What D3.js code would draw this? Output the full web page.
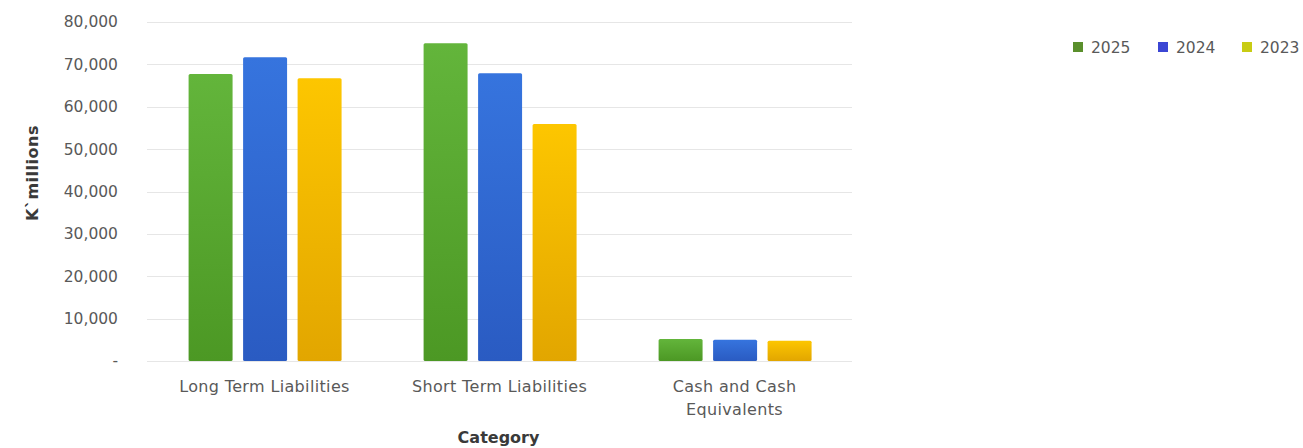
<!DOCTYPE html>
<html>
<head>
<meta charset="utf-8">
<script src="https://cdn.jsdelivr.net/npm/d3@7"></script>
<style>
  body { margin: 0; background: #fff; font-family: "DejaVu Sans", sans-serif; }
  .grid line { stroke: #e6e6e6; stroke-width: 1; }
  .tick text { fill: #595959; }
</style>
</head>
<body>
<div id="vis-container"></div>
<script>
// Chart data
var categories = ["Long Term Liabilities", "Short Term Liabilities", "Cash and Cash Equivalents"];
var years = ["2025", "2024", "2023"];
var values2025 = [67700, 75000, 5200];
var values2024 = [71700, 67900, 5000];
var values2023 = [66700, 55900, 4800];
var yTicks = [0, 10000, 20000, 30000, 40000, 50000, 60000, 70000, 80000];

var width = 1303, height = 448;
var margins = { top: 22, right: 451, bottom: 87, left: 147 };
var visWidth = width - margins.left - margins.right;
var visHeight = height - margins.top - margins.bottom;

var barColors = {
    "2025": ["#63b53b", "#4c9824"],
    "2024": ["#3674de", "#2a5bc2"],
    "2023": ["#fdc600", "#e2a600"]
};
var legendColors = { "2025": "#5a8f2c", "2024": "#3b46d4", "2023": "#c8cc14" };

var seriesValues = { "2025": values2025, "2024": values2024, "2023": values2023 };

var svg = d3.select("#vis-container").append("svg")
    .attr("width", width).attr("height", height);

// gradients for bars
var defs = svg.append("defs");
years.forEach(function (yr) {
    var g = defs.append("linearGradient").attr("id", "grad" + yr)
        .attr("x1", 0).attr("y1", 0).attr("x2", 0).attr("y2", 1);
    g.append("stop").attr("offset", "0%").attr("stop-color", barColors[yr][0]);
    g.append("stop").attr("offset", "100%").attr("stop-color", barColors[yr][1]);
});

var viewport = svg.append("g").attr("transform", "translate(" + margins.left + "," + margins.top + ")");

var x0 = d3.scaleBand().domain(categories).range([0, visWidth]);
var bw = x0.bandwidth();
var x1 = d3.scaleBand().domain(years).range([bw * 0.177, bw * 0.828]).paddingInner(0.193);
var y = d3.scaleLinear().domain([0, 80000]).range([visHeight, 0]);

// gridlines
viewport.append("g").attr("class", "grid")
    .selectAll("line").data(yTicks).enter().append("line")
    .attr("x1", 0).attr("x2", visWidth)
    .attr("y1", function (d) { return Math.round(y(d)) + 0.5; })
    .attr("y2", function (d) { return Math.round(y(d)) + 0.5; });

// y axis
var fmt = d3.format(",");
var yAxis = viewport.append("g")
    .attr("transform", "translate(-26,0)")
    .call(d3.axisLeft(y).tickValues(yTicks).tickSize(0)
        .tickFormat(function (d) { return d === 0 ? "-   " : fmt(d); }));
yAxis.select(".domain").remove();
yAxis.selectAll("text").style("font-family", "'DejaVu Sans', sans-serif").style("font-size", "15.5px");

// bars
var groups = viewport.selectAll(".cat").data(categories).enter().append("g")
    .attr("transform", function (d) { return "translate(" + x0(d) + ",0)"; });
groups.selectAll("rect").data(function (d, i) {
    return years.map(function (yr) { return { year: yr, value: seriesValues[yr][i] }; });
}).enter().append("rect")
    .attr("x", function (d) { return x1(d.year); })
    .attr("y", function (d) { return y(d.value); })
    .attr("width", x1.bandwidth())
    .attr("height", function (d) { return visHeight - y(d.value); })
    .attr("rx", 1.5)
    .attr("fill", function (d) { return "url(#grad" + d.year + ")"; });

// x axis labels
var xAxis = viewport.append("g")
    .attr("transform", "translate(0," + visHeight + ")")
    .call(d3.axisBottom(x0).tickSize(0).tickPadding(20));
xAxis.select(".domain").remove();
xAxis.selectAll("text")
    .style("font-family", "'DejaVu Sans', sans-serif")
    .style("font-size", "16px")
    .style("letter-spacing", "0.35px");
xAxis.selectAll("text").each(function (d) {
    var t = d3.select(this);
    if (d === "Cash and Cash Equivalents") {
        t.text(null);
        t.append("tspan").attr("x", 0).attr("dy", "0.71em").text("Cash and Cash");
        t.append("tspan").attr("x", 0).attr("dy", "1.4em").text("Equivalents");
        t.attr("dy", null);
    }
});

// axis titles
svg.append("text")
    .attr("x", margins.left + visWidth / 2 - 1).attr("y", 443)
    .attr("text-anchor", "middle")
    .style("font-size", "16px").style("font-weight", "bold").attr("fill", "#3a3a3a")
    .text("Category");

svg.append("text")
    .attr("transform", "translate(38,173) rotate(-90)")
    .attr("text-anchor", "middle")
    .style("font-size", "16px").style("font-weight", "bold").style("letter-spacing", "0.5px")
    .attr("fill", "#3a3a3a")
    .text("K`millions");

// legend
var legendX = [1073, 1158, 1242];
var legend = svg.append("g").attr("transform", "translate(0,47)");
years.forEach(function (yr, i) {
    legend.append("rect").attr("x", legendX[i]).attr("y", -5).attr("width", 10).attr("height", 10)
        .attr("fill", legendColors[yr]);
    legend.append("text").attr("x", legendX[i] + 18).attr("y", 5.5)
        .style("font-size", "15.5px").attr("fill", "#595959").text(yr);
});
</script>
</body>
</html>
